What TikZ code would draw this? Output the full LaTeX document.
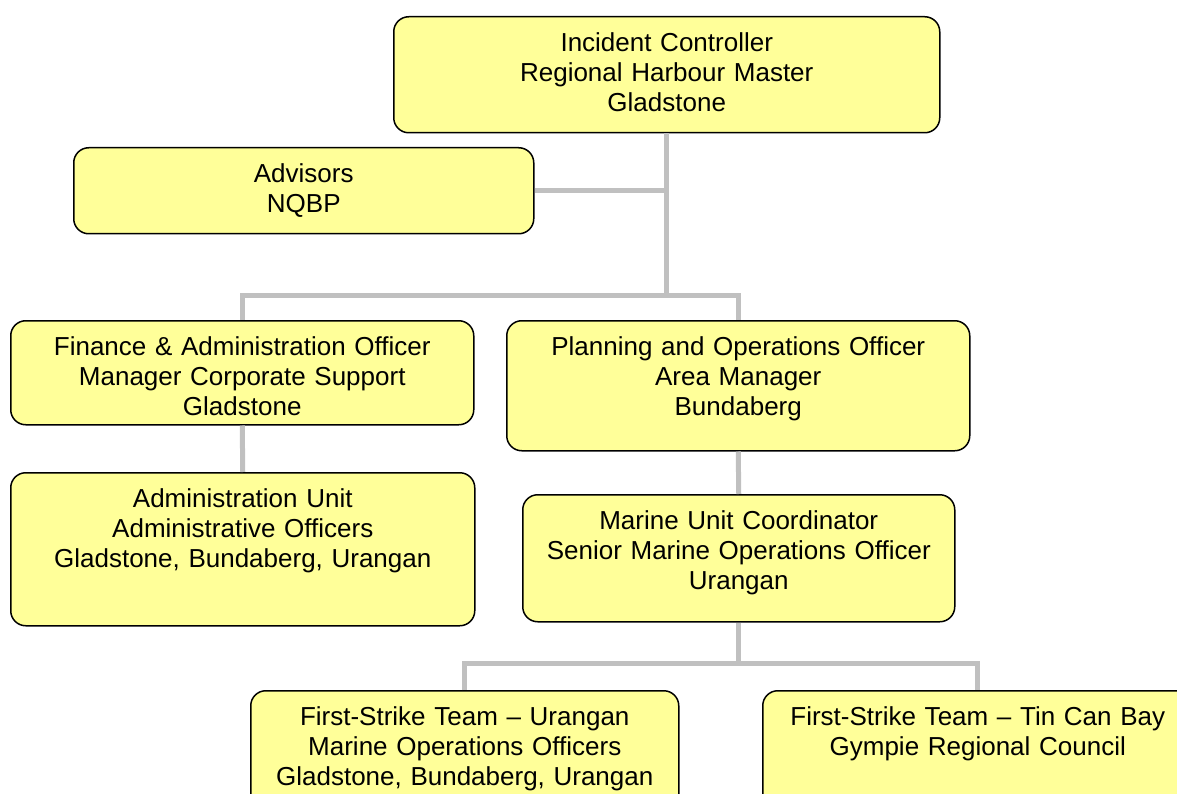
\documentclass[tikz,border=0pt]{standalone}
\usepackage{fontspec}
\setmainfont{Liberation Sans}
\definecolor{boxyellow}{HTML}{FFFF99}
\definecolor{linkgray}{HTML}{C0C0C0}

\begin{document}
\begin{tikzpicture}[x=1pt,y=-1pt,
    orgbox/.style={draw=black, line width=1.5pt, fill=boxyellow, rounded corners=15pt,
      anchor=north west, inner sep=0pt, align=center, text height=35pt,
      font=\fontsize{26}{30}\selectfont},
    link/.style={draw=linkgray, line width=5pt}]
\useasboundingbox (0,0) rectangle (1177,794);
\clip (0,0) rectangle (1177,794);

% top level
\node[orgbox, text width=546pt, text depth=81pt] (IC) at (393,16)
  {Incident Controller\\Regional Harbour Master\\Gladstone};
\node[orgbox, text width=460pt, text depth=51pt] (Adv) at (73,147)
  {Advisors\\NQBP};

% officers
\node[orgbox, text width=463pt, text depth=69pt] (Fin) at (10,320)
  {Finance \& Administration Officer\\Manager Corporate Support\\Gladstone};
\node[orgbox, text width=463pt, text depth=95pt] (Plan) at (506,320)
  {Planning and Operations Officer\\Area Manager\\Bundaberg};

% units
\node[orgbox, text width=464pt, text depth=118pt] (Adm) at (10,472)
  {Administration Unit\\Administrative Officers\\Gladstone, Bundaberg, Urangan};
\node[orgbox, text width=432pt, text depth=92pt] (Mar) at (522,494)
  {Marine Unit Coordinator\\Senior Marine Operations Officer\\Urangan};

% first-strike teams
\node[orgbox, text width=428pt, text depth=85pt] (FSU) at (250,690)
  {First-Strike Team \textendash\ Urangan\\Marine Operations Officers\\Gladstone, Bundaberg, Urangan};
\node[orgbox, text width=430pt, text depth=85pt] (FST) at (762,690)
  {First-Strike Team \textendash\ Tin Can Bay\\Gympie Regional Council};

% connectors
\draw[link] (IC.south) -- ++(0,163);
\draw[link] (Adv.east) -- (Adv.east -| IC.south);
\draw[link] (Fin.north) -- ++(0,-25) -| (Plan.north);
\draw[link] (Fin.south) -- (Adm.north);
\draw[link] (Plan.south) -- (Mar.north);
\draw[link] (Mar.south) -- ++(0,42);
\draw[link] (FSU.north) -- ++(0,-27) -| (FST.north);

\end{tikzpicture}
\end{document}
